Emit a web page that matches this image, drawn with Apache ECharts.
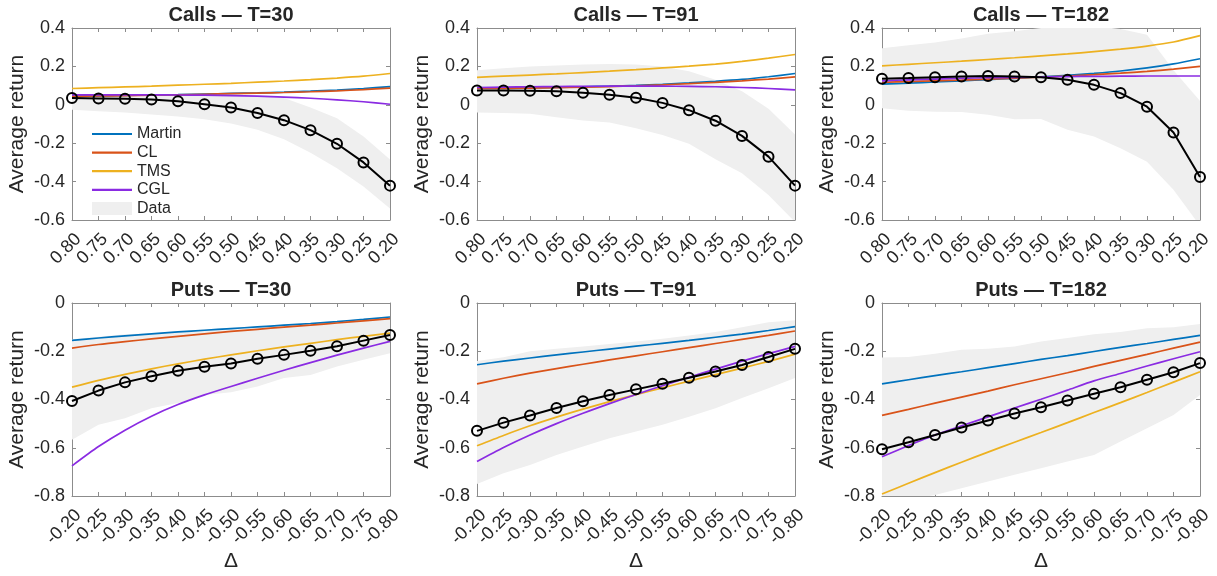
<!DOCTYPE html>
<html><head><meta charset="utf-8">
<script src="https://cdn.jsdelivr.net/npm/echarts@6/dist/echarts.min.js"></script>
<style>html,body{margin:0;padding:0;background:#fff}#c{width:1217px;height:576px}</style>
</head><body><div id="c"></div>
<script>
// ---------- categories ----------
const callCats = ['0.80','0.75','0.70','0.65','0.60','0.55','0.50','0.45','0.40','0.35','0.30','0.25','0.20'];
const putCats  = ['-0.20','-0.25','-0.30','-0.35','-0.40','-0.45','-0.50','-0.55','-0.60','-0.65','-0.70','-0.75','-0.80'];
const titles = ['Calls \u2014 T=30','Calls \u2014 T=91','Calls \u2014 T=182','Puts \u2014 T=30','Puts \u2014 T=91','Puts \u2014 T=182'];

// ---------- Calls T=30 ----------
const c30Data   = [0.035,0.033,0.031,0.028,0.019,0.003,-0.014,-0.043,-0.080,-0.132,-0.203,-0.300,-0.421];
const c30Martin = [0.045,0.047,0.049,0.051,0.053,0.056,0.059,0.062,0.066,0.071,0.077,0.085,0.095];
const c30CL     = [0.044,0.046,0.048,0.050,0.052,0.055,0.058,0.061,0.064,0.068,0.073,0.079,0.087];
const c30TMS    = [0.085,0.089,0.093,0.097,0.102,0.107,0.112,0.118,0.124,0.131,0.139,0.149,0.163];
const c30CGL    = [0.052,0.052,0.052,0.052,0.051,0.050,0.048,0.045,0.040,0.034,0.026,0.016,0.003];
const c30Lo     = [-0.026,-0.033,-0.040,-0.050,-0.061,-0.075,-0.097,-0.130,-0.180,-0.250,-0.330,-0.425,-0.540];
const c30Hi     = [0.050,0.050,0.050,0.050,0.050,0.050,0.050,0.045,0.035,-0.014,-0.070,-0.165,-0.285];

// ---------- Calls T=91 ----------
const c91Data   = [0.075,0.075,0.073,0.070,0.063,0.052,0.037,0.010,-0.028,-0.083,-0.162,-0.270,-0.421];
const c91Martin = [0.087,0.088,0.089,0.091,0.094,0.097,0.101,0.107,0.114,0.122,0.132,0.146,0.163];
const c91CL     = [0.085,0.086,0.087,0.089,0.092,0.095,0.099,0.104,0.110,0.117,0.125,0.134,0.145];
const c91TMS    = [0.143,0.149,0.155,0.161,0.168,0.175,0.183,0.192,0.201,0.212,0.226,0.243,0.262];
const c91CGL    = [0.090,0.092,0.094,0.095,0.096,0.097,0.097,0.097,0.096,0.094,0.090,0.085,0.078];
const c91Lo     = [-0.040,-0.043,-0.047,-0.065,-0.082,-0.092,-0.122,-0.157,-0.203,-0.283,-0.357,-0.470,-0.610];
const c91Hi     = [0.180,0.190,0.200,0.205,0.210,0.213,0.210,0.200,0.175,0.130,0.070,-0.020,-0.155];

// ---------- Calls T=182 ----------
const c182Data   = [0.136,0.139,0.144,0.148,0.150,0.148,0.144,0.130,0.104,0.061,-0.010,-0.144,-0.376];
const c182Martin = [0.108,0.113,0.119,0.125,0.131,0.138,0.146,0.154,0.164,0.176,0.192,0.213,0.240];
const c182CL     = [0.117,0.121,0.125,0.129,0.134,0.139,0.144,0.150,0.157,0.165,0.174,0.186,0.200];
const c182TMS    = [0.203,0.211,0.219,0.227,0.236,0.245,0.255,0.265,0.277,0.290,0.306,0.327,0.360];
const c182CGL    = [0.125,0.130,0.134,0.138,0.141,0.143,0.145,0.147,0.148,0.149,0.150,0.150,0.150];
const c182Lo     = [-0.018,-0.031,-0.036,-0.038,-0.052,-0.075,-0.074,-0.130,-0.165,-0.226,-0.296,-0.443,-0.630];
const c182Hi     = [0.295,0.310,0.325,0.345,0.370,0.383,0.400,0.410,0.410,0.395,0.365,0.180,0.020];

// ---------- Puts T=30 ----------
const p30Data   = [-0.406,-0.363,-0.329,-0.304,-0.281,-0.264,-0.251,-0.231,-0.215,-0.198,-0.179,-0.156,-0.133];
const p30Martin = [-0.155,-0.145,-0.136,-0.128,-0.120,-0.113,-0.106,-0.099,-0.092,-0.085,-0.077,-0.068,-0.058];
const p30CL     = [-0.187,-0.172,-0.160,-0.149,-0.138,-0.128,-0.118,-0.109,-0.100,-0.092,-0.083,-0.074,-0.065];
const p30TMS    = [-0.349,-0.321,-0.296,-0.273,-0.252,-0.233,-0.215,-0.198,-0.182,-0.167,-0.152,-0.138,-0.125];
const p30CGL    = [-0.675,-0.595,-0.527,-0.469,-0.421,-0.381,-0.346,-0.312,-0.279,-0.247,-0.216,-0.187,-0.159];
const p30Lo     = [-0.567,-0.505,-0.478,-0.436,-0.415,-0.381,-0.370,-0.346,-0.311,-0.298,-0.263,-0.235,-0.208];
const p30Hi     = [-0.150,-0.140,-0.130,-0.125,-0.118,-0.110,-0.103,-0.097,-0.090,-0.083,-0.075,-0.065,-0.055];

// ---------- Puts T=91 ----------
const p91Data   = [-0.530,-0.496,-0.466,-0.435,-0.407,-0.381,-0.358,-0.335,-0.310,-0.284,-0.257,-0.224,-0.190];
const p91Martin = [-0.256,-0.241,-0.228,-0.215,-0.203,-0.191,-0.179,-0.167,-0.155,-0.142,-0.129,-0.114,-0.098];
const p91CL     = [-0.335,-0.312,-0.291,-0.272,-0.254,-0.236,-0.219,-0.202,-0.185,-0.168,-0.151,-0.134,-0.116];
const p91TMS    = [-0.592,-0.549,-0.509,-0.473,-0.440,-0.409,-0.380,-0.352,-0.324,-0.297,-0.270,-0.242,-0.212];
const p91CGL    = [-0.657,-0.599,-0.547,-0.500,-0.457,-0.417,-0.379,-0.343,-0.308,-0.274,-0.241,-0.210,-0.180];
const p91Lo     = [-0.750,-0.706,-0.671,-0.630,-0.595,-0.561,-0.533,-0.505,-0.471,-0.436,-0.394,-0.353,-0.311];
const p91Hi     = [-0.240,-0.225,-0.200,-0.190,-0.180,-0.170,-0.160,-0.148,-0.135,-0.120,-0.100,-0.080,-0.072];

// ---------- Puts T=182 ----------
const p182Data   = [-0.606,-0.577,-0.547,-0.516,-0.487,-0.458,-0.432,-0.404,-0.376,-0.349,-0.318,-0.287,-0.249];
const p182Martin = [-0.335,-0.318,-0.301,-0.285,-0.268,-0.251,-0.234,-0.218,-0.201,-0.184,-0.168,-0.151,-0.134];
const p182CL     = [-0.466,-0.441,-0.415,-0.390,-0.365,-0.339,-0.314,-0.289,-0.263,-0.238,-0.213,-0.187,-0.162];
const p182TMS    = [-0.792,-0.747,-0.703,-0.660,-0.618,-0.577,-0.537,-0.496,-0.454,-0.413,-0.371,-0.328,-0.285];
const p182CGL    = [-0.637,-0.591,-0.547,-0.509,-0.472,-0.435,-0.399,-0.361,-0.323,-0.292,-0.261,-0.231,-0.202];
const p182Lo     = [-0.830,-0.815,-0.796,-0.768,-0.740,-0.712,-0.685,-0.657,-0.630,-0.574,-0.519,-0.464,-0.381];
const p182Hi     = [-0.226,-0.224,-0.210,-0.194,-0.190,-0.180,-0.160,-0.145,-0.130,-0.120,-0.105,-0.100,-0.087];

// ---------- assembly ----------
const panels = [
  {cats: callCats, data: c30Data,  martin: c30Martin,  cl: c30CL,  tms: c30TMS,  cgl: c30CGL,  lo: c30Lo,  hi: c30Hi,  ymin: -0.6, ymax: 0.4},
  {cats: callCats, data: c91Data,  martin: c91Martin,  cl: c91CL,  tms: c91TMS,  cgl: c91CGL,  lo: c91Lo,  hi: c91Hi,  ymin: -0.6, ymax: 0.4},
  {cats: callCats, data: c182Data, martin: c182Martin, cl: c182CL, tms: c182TMS, cgl: c182CGL, lo: c182Lo, hi: c182Hi, ymin: -0.6, ymax: 0.4},
  {cats: putCats,  data: p30Data,  martin: p30Martin,  cl: p30CL,  tms: p30TMS,  cgl: p30CGL,  lo: p30Lo,  hi: p30Hi,  ymin: -0.8, ymax: 0},
  {cats: putCats,  data: p91Data,  martin: p91Martin,  cl: p91CL,  tms: p91TMS,  cgl: p91CGL,  lo: p91Lo,  hi: p91Hi,  ymin: -0.8, ymax: 0},
  {cats: putCats,  data: p182Data, martin: p182Martin, cl: p182CL, tms: p182TMS, cgl: p182CGL, lo: p182Lo, hi: p182Hi, ymin: -0.8, ymax: 0}
];

const FONT = "'Liberation Sans', Arial, Helvetica, sans-serif";
const TXT = '#262626';
const FRAME = '#8c8c8c';
const COLORS = {Martin: '#0072BD', CL: '#D95319', TMS: '#EDB120', CGL: '#8A2BE2', Data: '#efefef'};
const colLeft = [72, 477, 882];
const rowTop = [28, 303];
const rowH = [192, 193];
const GW = 318;

const grids = [], xAxes = [], yAxes = [], series = [], graphics = [];
const fmt = v => (Math.abs(v) < 1e-9 ? '0' : v.toFixed(1));

panels.forEach((p, i) => {
  const r = Math.floor(i / 3), c = i % 3;
  grids.push({left: colLeft[c], top: rowTop[r], width: GW, height: rowH[r], containLabel: false});
  const tick = {show: true, inside: true, length: 4, lineStyle: {color: FRAME, width: 1}};
  const line = {show: true, onZero: false, lineStyle: {color: FRAME, width: 1}};
  xAxes[i] = {
    type: 'category', gridIndex: i, data: p.cats, boundaryGap: false, position: 'bottom',
    axisLine: line, axisTick: Object.assign({interval: 0}, tick), splitLine: {show: false},
    axisLabel: {interval: 0, rotate: 45, fontSize: 18, color: TXT, fontFamily: FONT, margin: 10,
                align: 'right', verticalAlign: 'top'},
    name: r === 1 ? '\u0394' : '', nameLocation: 'middle', nameGap: 55,
    nameTextStyle: {fontSize: 21, color: TXT, fontFamily: FONT}
  };
  xAxes[6 + i] = {
    type: 'category', gridIndex: i, data: p.cats, boundaryGap: false, position: 'top',
    axisLine: line, axisTick: Object.assign({interval: 0}, tick), axisLabel: {show: false}, splitLine: {show: false}
  };
  yAxes[i] = {
    type: 'value', gridIndex: i, min: p.ymin, max: p.ymax, interval: 0.2, position: 'left',
    axisLine: line, axisTick: tick, splitLine: {show: false},
    axisLabel: {formatter: fmt, fontSize: 18, color: TXT, fontFamily: FONT, margin: 7},
    name: 'Average return', nameLocation: 'middle', nameGap: 44,
    nameTextStyle: {fontSize: 21, color: TXT, fontFamily: FONT}
  };
  yAxes[6 + i] = {
    type: 'value', gridIndex: i, min: p.ymin, max: p.ymax, interval: 0.2, position: 'right',
    axisLine: line, axisTick: tick, axisLabel: {show: false}, splitLine: {show: false}
  };

  const stack = 'band' + i;
  series.push({
    name: 'DataLow', type: 'line', xAxisIndex: i, yAxisIndex: i, data: p.lo, stack: stack, stackStrategy: 'all',
    symbol: 'none', lineStyle: {opacity: 0, width: 0}, silent: true, z: 1
  });
  series.push({
    name: 'Data', type: 'line', xAxisIndex: i, yAxisIndex: i, stack: stack, stackStrategy: 'all',
    data: p.hi.map((h, k) => h - p.lo[k]), color: COLORS.Data,
    symbol: 'none', lineStyle: {opacity: 0, width: 0}, areaStyle: {color: COLORS.Data, opacity: 1},
    itemStyle: {color: COLORS.Data}, silent: true, z: 1
  });
  [['Martin', p.martin], ['CL', p.cl], ['TMS', p.tms], ['CGL', p.cgl]].forEach(([nm, arr]) => {
    series.push({
      name: nm, type: 'line', xAxisIndex: i, yAxisIndex: i, data: arr, smooth: 0.25,
      symbol: 'none', color: COLORS[nm], itemStyle: {color: COLORS[nm]},
      lineStyle: {color: COLORS[nm], width: 1.7}, z: 3
    });
  });
  series.push({
    name: 'Empirical', type: 'line', xAxisIndex: i, yAxisIndex: i, data: p.data,
    symbol: 'circle', symbolSize: 10, color: '#000',
    itemStyle: {color: 'rgba(255,255,255,0)', borderColor: '#000', borderWidth: 2},
    lineStyle: {color: '#000', width: 2}, z: 5
  });

  graphics.push({
    type: 'text', x: colLeft[c] + GW / 2, y: rowTop[r] - 13,
    style: {text: titles[i], font: 'bold 20px ' + FONT, fill: TXT,
            align: 'center', verticalAlign: 'middle', textAlign: 'center', textVerticalAlign: 'middle'}
  });
});

const LINE_ICON = 'path://M0,0H40V2.2H0Z';
const chart = echarts.init(document.getElementById('c'), null, {renderer: 'canvas'});
chart.setOption({
  animation: false,
  backgroundColor: '#ffffff',
  grid: grids, xAxis: xAxes, yAxis: yAxes, series: series, graphic: graphics,
  legend: {
    orient: 'vertical', left: 87, top: 121, itemWidth: 40, itemHeight: 13, itemGap: 2.6,
    symbolKeepAspect: true,
    textStyle: {fontSize: 16, color: TXT, fontFamily: FONT, lineHeight: 16},
    data: [
      {name: 'Martin', icon: LINE_ICON, itemStyle: {color: COLORS.Martin}},
      {name: 'CL', icon: LINE_ICON, itemStyle: {color: COLORS.CL}},
      {name: 'TMS', icon: LINE_ICON, itemStyle: {color: COLORS.TMS}},
      {name: 'CGL', icon: LINE_ICON, itemStyle: {color: COLORS.CGL}},
      {name: 'Data', icon: 'rect', itemStyle: {color: COLORS.Data}}
    ]
  }
});
</script></body></html>
